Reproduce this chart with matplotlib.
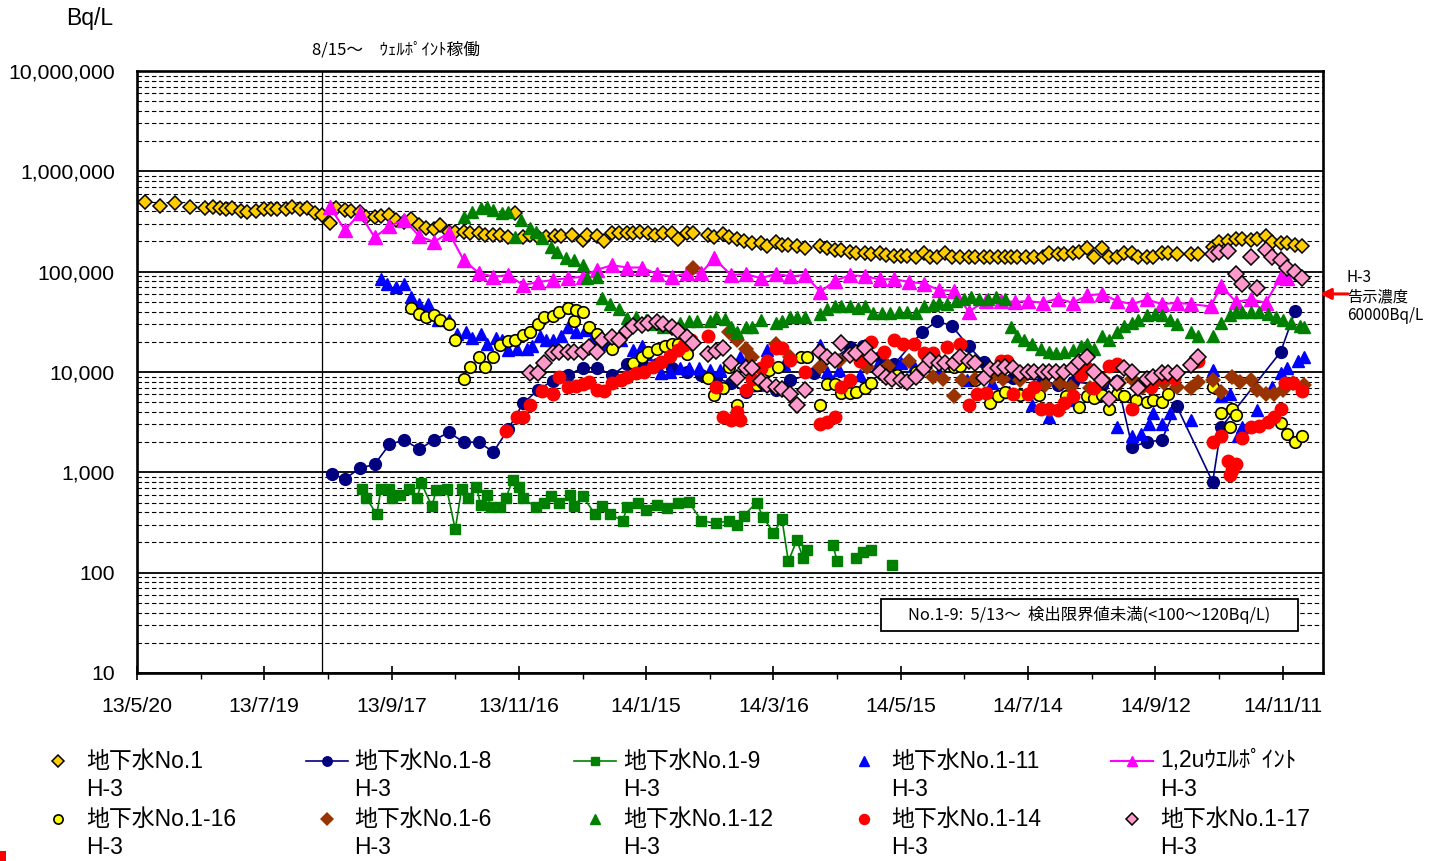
"""
Groundwater H-3 concentration (Bq/L, log scale), 2013/5 - 2014/11.
"""

import datetime as dt

import matplotlib
matplotlib.use("Agg")
import matplotlib.pyplot as plt
import matplotlib.dates as mdates
import numpy as np
from matplotlib.lines import Line2D
from matplotlib.patches import Rectangle
from matplotlib.ticker import FixedLocator, FuncFormatter, LogLocator, NullFormatter

plt.rcParams["font.family"] = ["Liberation Sans", "Noto Sans CJK JP", "DejaVu Sans"]
JP = ["Noto Sans CJK JP", "DejaVu Sans"]

# ---------------- data (date yy/m/d, H-3 in Bq/L) ----------------
no1_dates = """
13/5/24 13/5/31 13/6/7 13/6/14 13/6/21 13/6/25 13/6/28 13/7/1 13/7/4 13/7/8 13/7/11 13/7/15
13/7/19 13/7/22 13/7/25 13/7/29 13/8/1 13/8/5 13/8/8 13/8/12 13/8/15 13/8/19 13/8/22 13/8/26
13/8/29 13/9/2 13/9/5 13/9/9 13/9/12 13/9/16 13/9/19 13/9/23 13/9/26 13/9/30 13/10/3 13/10/7
13/10/10 13/10/14 13/10/17 13/10/21 13/10/24 13/10/28 13/10/31 13/11/4 13/11/7 13/11/11 13/11/14
13/11/18 13/11/21 13/11/25 13/11/29 13/12/3 13/12/6 13/12/11 13/12/16 13/12/18 13/12/23 13/12/26
13/12/30 14/1/2 14/1/6 14/1/9 14/1/12 14/1/16 14/1/19 14/1/23 14/1/27 14/1/30 14/2/3 14/2/6
14/2/13 14/2/16 14/2/20 14/2/23 14/2/27 14/3/2 14/3/6 14/3/10 14/3/13 14/3/17 14/3/20 14/3/23
14/3/27 14/3/31 14/4/7 14/4/10 14/4/14 14/4/17 14/4/21 14/4/24 14/4/28 14/5/1 14/5/5 14/5/8
14/5/12 14/5/15 14/5/18 14/5/22 14/5/26 14/5/29 14/6/1 14/6/5 14/6/8 14/6/12 14/6/16 14/6/19
14/6/23 14/6/26 14/6/30 14/7/3 14/7/6 14/7/9 14/7/13 14/7/17 14/7/21 14/7/24 14/7/28 14/7/31
14/8/4 14/8/7 14/8/11 14/8/14 14/8/18 14/8/21 14/8/25 14/8/28 14/9/1 14/9/4 14/9/8 14/9/11
14/9/15 14/9/18 14/9/22 14/9/29 14/10/2 14/10/9 14/10/12 14/10/16 14/10/20 14/10/23 14/10/27
14/10/30 14/11/3 14/11/6 14/11/10 14/11/13 14/11/17 14/11/20
""".split()
no1_vals = [
    500000, 450000, 480000, 440000, 430000, 440000, 430000, 420000, 430000, 400000, 390000, 400000,
    420000, 420000, 420000, 420000, 440000, 420000, 430000, 385000, 365000, 305000, 430000, 410000,
    400000, 390000, 350000, 350000, 355000, 365000, 325000, 310000, 335000, 290000, 270000, 265000,
    290000, 248000, 248000, 248000, 242000, 242000, 230000, 230000, 230000, 220000, 385000,
    220000, 230000, 220000, 220000, 225000, 225000, 230000, 206000, 230000, 226000, 202000,
    242000, 242000, 242000, 245000, 250000, 242000, 231000, 245000, 242000, 211000, 245000, 245000,
    231000, 221000, 237000, 221000, 211000, 202000, 193000, 193000, 180000, 197000, 184000, 184000,
    180000, 172000, 180000, 172000, 164000, 164000, 157000, 153000, 153000, 150000, 153000, 146000,
    143000, 143000, 143000, 140000, 153000, 140000, 140000, 153000, 140000, 140000, 140000, 140000,
    140000, 140000, 140000, 140000, 140000, 140000, 140000, 140000, 140000, 153000, 150000, 150000,
    153000, 157000, 172000, 140000, 172000, 140000, 140000, 153000, 153000, 140000, 140000, 140000,
    153000, 153000, 150000, 150000, 150000, 176000, 197000, 202000, 211000, 211000, 206000,
    211000, 226000, 197000, 193000, 193000, 184000, 180000,
]

no18_dates = """
13/8/20 13/8/26 13/9/2 13/9/9 13/9/16 13/9/23 13/9/30 13/10/7 13/10/14 13/10/21 13/10/28 13/11/4
13/11/11 13/11/18 13/11/25 13/12/2 13/12/9 13/12/16 13/12/23 13/12/30 14/1/6 14/1/13 14/1/20
14/1/27 14/2/3 14/2/10 14/2/17 14/2/24 14/3/3 14/3/17 14/3/24 14/4/4 14/4/21 14/4/27 14/5/5
14/5/12 14/5/25 14/6/1 14/6/8 14/6/16 14/6/23 14/6/30 14/7/7 14/7/21 14/7/28 14/8/4 14/8/18
14/8/25 14/9/1 14/9/8 14/9/15 14/9/22 14/10/9 14/10/13 14/11/10 14/11/17
""".split()
no18_vals = [
    960, 860, 1100, 1200, 1900, 2100, 1700, 2100, 2500, 2000, 2000, 1600,
    2700, 4900, 6600, 8200, 9300, 11000, 11000, 9300, 12000, 12000, 12000,
    11000, 10000, 9300, 8700, 7700, 6300, 6600, 8300, 9700, 17700, 18000, 14000,
    12000, 25000, 32000, 29000, 18000, 12600, 9800, 8700, 8300, 7400, 8000, 7400,
    8100, 1800, 2000, 2100, 4600, 800, 2800, 15800, 41000,
]

no19_dates = """
13/9/3 13/9/5 13/9/10 13/9/12 13/9/16 13/9/17 13/9/21 13/9/25 13/9/29 13/10/1 13/10/6 13/10/8
13/10/13 13/10/17 13/10/20 13/10/23 13/10/27 13/10/29 13/11/1 13/11/3 13/11/7 13/11/10 13/11/13
13/11/16 13/11/18 13/11/24 13/11/28 13/12/1 13/12/5 13/12/10 13/12/12 13/12/16 13/12/22 13/12/25
13/12/29 14/1/4 14/1/6 14/1/11 14/1/15 14/1/20 14/1/25 14/1/30 14/2/4 14/2/10 14/2/17 14/2/23
14/2/27 14/3/2 14/3/8 14/3/11 14/3/16 14/3/20 14/3/23 14/3/27 14/3/30 14/4/1 14/4/7 14/4/13
14/4/15 14/4/20 14/4/24 14/4/27 14/5/1 14/5/5 14/5/11
""".split()
no19_vals = [
    680, 560, 380, 680, 690, 560, 590, 680, 560, 780, 460, 660,
    680, 270, 680, 560, 720, 470, 590, 450, 450, 560, 840,
    720, 550, 450, 490, 580, 490, 590, 460, 580, 380, 460,
    380, 330, 450, 490, 420, 470, 440, 490, 510, 330, 310, 330,
    300, 370, 500, 360, 250, 340, 130, 210, 140, 170, None, 190,
    130, None, 140, 160, 170, None, 120,
]

no111_dates = """
13/9/12 13/9/15 13/9/19 13/9/23 13/9/26 13/9/30 13/10/4 13/10/9 13/10/14 13/10/18 13/10/22
13/10/25 13/10/29 13/11/1 13/11/5 13/11/8 13/11/11 13/11/15 13/11/20 13/11/22 13/11/26 13/11/29
13/12/2 13/12/6 13/12/9 13/12/13 13/12/17 13/12/21 13/12/27 14/1/3 14/1/9 14/1/13 14/1/15
14/1/22 14/1/26 14/1/31 14/2/4 14/2/9 14/2/14 14/2/19 14/2/28 14/3/5 14/3/13 14/3/21 14/4/7
14/4/10 14/4/16 14/4/26 14/5/4 14/5/15 14/5/21 14/6/2 14/6/15 14/6/27 14/7/5 14/7/16 14/7/24
14/8/3 14/8/11 14/8/17 14/8/25 14/9/1 14/9/5 14/9/9 14/9/11 14/9/15 14/9/19 14/9/29 14/10/9
14/10/13 14/10/17 14/10/21 14/10/23 14/10/30 14/11/6 14/11/10 14/11/13 14/11/18 14/11/21
""".split()
no111_vals = [
    84000, 76000, 70000, 76000, 56000, 48000, 48000, 33000, 33000, 24000, 25000,
    22000, 24000, 19000, 22000, 21000, 16500, 17000, 17000, 18000, 23000, 21000,
    21000, 23000, 28000, 25000, 26000, 22000, 19000, 21000, 16500, 18000, 15000,
    9700, 10000, 11000, 11000, 11000, 10500, 10500, 14000, 15000, 16500, 12000, 18500,
    10000, 10500, 9300, 11500, 12300, 11500, 10000, 8300, 7700, 6300, 4700, 3600,
    5300, 11000, 5900, 2800, 2300, 2400, 3000, 3900, 3000, 3900, 3300, 10400,
    5700, 6100, 2300, 2800, 4200, 7100, 9700, 11000, 13000, 14000,
]

well_dates = """
13/8/19 13/8/26 13/9/2 13/9/9 13/9/16 13/9/23 13/9/30 13/10/7 13/10/14 13/10/21 13/10/28 13/11/4
13/11/11 13/11/18 13/11/25 13/12/2 13/12/9 13/12/16 13/12/23 13/12/30 14/1/6 14/1/13 14/1/20
14/1/27 14/2/3 14/2/10 14/2/16 14/2/24 14/3/3 14/3/10 14/3/17 14/3/24 14/3/31 14/4/7 14/4/14
14/4/21 14/4/28 14/5/5 14/5/12 14/5/19 14/5/26 14/6/2 14/6/9 14/6/16 14/6/24 14/7/1 14/7/8
14/7/14 14/7/21 14/7/28 14/8/4 14/8/11 14/8/18 14/8/25 14/9/1 14/9/8 14/9/15 14/9/22 14/9/29
14/10/8 14/10/13 14/10/20 14/10/27 14/11/3 14/11/10 14/11/13
""".split()
well_vals = [
    440000, 260000, 380000, 220000, 285000, 330000, 226000, 198000, 244000, 130000, 97500, 89000,
    92500, 73500, 79000, 82500, 86000, 89000, 105000, 116000, 110000, 110000, 95000,
    89000, 96000, 97500, 136000, 92500, 95000, 86000, 95000, 90000, 92500, 63000, 81000,
    92500, 90000, 84000, 84000, 79000, 76000, 65500, 64500, 40000, 51000, 51000, 50000,
    51000, 49000, 54000, 49000, 58000, 60000, 51000, 47500, 53000, 47500, 49000, 47500,
    45000, 72000, 50000, 53000, 49000, 89000, 86000,
]

no116_dates = """
13/9/26 13/9/30 13/10/3 13/10/7 13/10/10 13/10/14 13/10/17 13/10/21 13/10/24 13/10/28 13/10/31
13/11/4 13/11/7 13/11/11 13/11/14 13/11/18 13/11/21 13/11/25 13/11/28 13/12/2 13/12/5 13/12/9
13/12/12 13/12/13 13/12/16 13/12/19 13/12/23 13/12/30 14/1/9 14/1/13 14/1/16 14/1/20 14/1/24
14/1/27 14/1/30 14/2/3 14/2/13 14/2/16 14/2/20 14/2/23 14/2/27 14/3/8 14/3/14 14/3/18 14/3/29
14/4/1 14/4/7 14/4/10 14/4/14 14/4/17 14/4/21 14/4/24 14/4/28 14/5/1 14/5/13 14/5/22 14/6/9
14/6/12 14/6/19 14/6/26 14/6/30 14/7/3 14/7/10 14/7/19 14/8/1 14/8/7 14/8/11 14/8/14 14/8/18
14/8/21 14/8/25 14/8/28 14/9/3 14/9/8 14/9/11 14/9/15 14/9/18 14/10/9 14/10/13 14/10/17
14/10/18 14/10/20 14/11/10 14/11/13 14/11/17 14/11/20
""".split()
no116_vals = [
    43000, 38000, 35500, 37000, 33000, 30000, 21000, 8600, 11100, 14200, 11100,
    14200, 18500, 20400, 21000, 23300, 25200, 30000, 35000, 36000, 40000, 43000,
    32000, 41500, 40000, 28000, 24000, 17000, 12200, 14200, 16000, 17000, 18000,
    19000, 19000, 15000, 8800, 5900, 6900, 11200, 4700, 7400, 10400, 11200, 14200,
    14200, 4700, 7600, 7600, 6200, 6200, 6300, 6900, 7800, 9300, 10000, 11200,
    11500, 8300, 4900, 5700, 6300, 5900, 5900, 5700, 4500, 5700, 5500, 5900,
    4300, 6100, 5700, 5200, 5000, 5200, 5000, 6100, 7100, 3900, 2800,
    4300, 3700, 3100, 2400, 2000, 2300,
]

no16_dates = """
14/2/6 14/2/23 14/2/27 14/3/3 14/3/6 14/3/17 14/3/24 14/4/7 14/4/16 14/4/29 14/5/9 14/5/19
14/5/30 14/6/4 14/6/9 14/6/13 14/6/19 14/6/27 14/7/2 14/7/10 14/7/22 14/7/29 14/8/3 14/8/12
14/8/19 14/8/26 14/9/1 14/9/6 14/9/11 14/9/16 14/9/22 14/9/29 14/10/2 14/10/9 14/10/13
14/10/18 14/10/22 14/10/27 14/10/30 14/11/3 14/11/7 14/11/11 14/11/16 14/11/21
""".split()
no16_vals = [
    110000, 25000, 21000, 17000, 14000, 19000, 14000, 11200, 13000, 11200, 11500, 13000,
    9000, 8600, 5700, 8300, 8600, 9000, 8600, 8300, 7400, 7700, 7100, 6900,
    8300, 7700, 8600, 7100, 7400, 7700, 7100, 6900, 8000, 8300, 6300,
    9000, 8000, 8300, 6600, 6100, 6100, 6600, 7700, 7400,
]

no112_dates = """
13/10/21 13/10/25 13/10/29 13/11/1 13/11/4 13/11/8 13/11/11 13/11/14 13/11/17 13/11/21 13/11/24
13/11/27 13/12/1 13/12/4 13/12/8 13/12/12 13/12/16 13/12/18 13/12/23 13/12/25 13/12/29 14/1/2
14/1/6 14/1/10 14/1/15 14/1/19 14/1/23 14/1/27 14/1/31 14/2/4 14/2/8 14/2/14 14/2/17 14/2/21
14/2/24 14/2/27 14/3/3 14/3/6 14/3/10 14/3/17 14/3/20 14/3/24 14/3/27 14/3/31 14/4/7 14/4/10
14/4/14 14/4/17 14/4/21 14/4/25 14/4/28 14/5/2 14/5/6 14/5/10 14/5/14 14/5/18 14/5/22 14/5/26
14/5/30 14/6/2 14/6/6 14/6/10 14/6/14 14/6/17 14/6/21 14/6/25 14/6/29 14/7/3 14/7/6 14/7/9
14/7/12 14/7/16 14/7/20 14/7/24 14/7/27 14/7/31 14/8/4 14/8/8 14/8/11 14/8/14 14/8/18 14/8/21
14/8/25 14/8/28 14/9/1 14/9/4 14/9/8 14/9/12 14/9/15 14/9/19 14/9/22 14/9/29 14/10/2 14/10/9
14/10/13 14/10/17 14/10/20 14/10/23 14/10/27 14/10/31 14/11/4 14/11/8 14/11/11 14/11/15
14/11/19 14/11/21
""".split()
no112_vals = [
    350000, 395000, 430000, 440000, 410000, 380000, 395000, 220000, 327000, 270000, 250000,
    215000, 177000, 158000, 136000, 130000, 116000, 86000, 89000, 55000, 47500, 42000,
    34500, 35500, 33000, 30000, 28000, 29000, 30500, 32000, 32000, 32000, 35000, 34000,
    28000, 25000, 28000, 28000, 33000, 30500, 32000, 35500, 35500, 35500, 38000, 42000,
    45000, 45000, 45000, 43000, 45000, 39000, 39000, 39000, 40000, 40000, 39000, 45000,
    46500, 49000, 48000, 51000, 54000, 56000, 54000, 54000, 56000, 54000, 28000, 23000,
    21000, 19000, 17000, 16000, 15500, 16000, 16500, 18000, 19000, 17000, 23000, 21000,
    25000, 29000, 31000, 33000, 37000, 38000, 37000, 33000, 30000, 25000, 23000, 23000,
    30500, 37000, 40000, 40000, 40000, 40000, 38000, 35500, 33000, 30500,
    29000, 28000,
]

no114_dates = """
13/11/10 13/11/15 13/11/18 13/11/21 13/11/27 13/12/2 13/12/5 13/12/9 13/12/13 13/12/16 13/12/19
13/12/23 13/12/26 13/12/30 14/1/3 14/1/6 14/1/10 14/1/14 14/1/18 14/1/22 14/1/26 14/1/30 14/2/2
14/2/5 14/2/13 14/2/17 14/2/20 14/2/24 14/2/27 14/2/28 14/3/3 14/3/6 14/3/10 14/3/13 14/3/17
14/3/20 14/3/24 14/3/31 14/4/7 14/4/10 14/4/14 14/4/17 14/4/21 14/4/26 14/5/1 14/5/7 14/5/12
14/5/16 14/5/21 14/5/26 14/5/30 14/6/6 14/6/12 14/6/16 14/6/20 14/6/24 14/7/1 14/7/4 14/7/7
14/7/14 14/7/17 14/7/20 14/7/24 14/7/28 14/7/31 14/8/4 14/8/8 14/8/11 14/8/14 14/8/21 14/8/25
14/9/1 14/9/10 14/9/15 14/9/21 14/9/30 14/10/2 14/10/9 14/10/13 14/10/16 14/10/17 14/10/18
14/10/20 14/10/23 14/10/27 14/10/31 14/11/4 14/11/7 14/11/10 14/11/12 14/11/16 14/11/20
""".split()
no114_vals = [
    2600, 3600, 3600, 4700, 6400, 6100, 9000, 7100, 7200, 7600, 8000,
    6600, 6400, 7700, 8300, 9000, 9700, 10000, 11200, 12600, 14400, 16500, 18500,
    21000, 23000, 7100, 3600, 3300, 4000, 3300, 6600, 8600, 10900, 12800, 17200,
    17200, 13100, 10000, 3000, 3200, 3600, 7100, 8300, 13000, 20000, 15900, 21000,
    19000, 19000, 15600, 15600, 17800, 19000, 4700, 6100, 6200, 12800, 13000, 6100,
    6100, 7100, 4300, 4300, 4200, 4900, 5700, 9300, 10900, 7000, 11500, 12000,
    4300, 7100, 9000, 8700, 12600, 13000, 2000, 2300, 1300, 940, 1050,
    1200, 2200, 2800, 2900, 3200, 3600, 4300, 7800, 7700, 6400,
]

no117_dates = """
13/11/21 13/11/25 13/11/28 13/12/2 13/12/5 13/12/9 13/12/12 13/12/16 13/12/19 13/12/23 13/12/25
13/12/30 14/1/2 14/1/6 14/1/9 14/1/13 14/1/16 14/1/20 14/1/23 14/1/27 14/1/30 14/2/3 14/2/6
14/2/13 14/2/17 14/2/20 14/2/24 14/2/27 14/3/3 14/3/6 14/3/10 14/3/13 14/3/17 14/3/20 14/3/24
14/3/27 14/3/31 14/4/7 14/4/10 14/4/14 14/4/17 14/4/21 14/4/24 14/4/28 14/5/1 14/5/5 14/5/8
14/5/11 14/5/15 14/5/18 14/5/22 14/5/26 14/5/29 14/6/2 14/6/5 14/6/9 14/6/12 14/6/16 14/6/19
14/6/23 14/6/26 14/6/30 14/7/3 14/7/7 14/7/10 14/7/14 14/7/17 14/7/21 14/7/24 14/7/27 14/7/31
14/8/4 14/8/7 14/8/11 14/8/14 14/8/18 14/8/21 14/8/25 14/8/28 14/9/1 14/9/4 14/9/8 14/9/11
14/9/15 14/9/18 14/9/22 14/9/29 14/10/2 14/10/9 14/10/12 14/10/16 14/10/20 14/10/23 14/10/27
14/10/30 14/11/3 14/11/6 14/11/10 14/11/13 14/11/17 14/11/20
""".split()
no117_vals = [
    9800, 9800, 12200, 15300, 15900, 15900, 15900, 15900, 17900, 15900, 20800,
    22400, 20800, 25900, 29000, 29300, 31000, 31600, 30000, 28200, 25500, 22300, 19300,
    15100, 16100, 17200, 12200, 8700, 11000, 10900, 8100, 7400, 7100, 6800, 6100,
    4700, 6600, 15900, 14200, 13100, 19300, 14700, 15300, 17200, 14200, 10000, 9000,
    8600, 8300, 8000, 9000, 10900, 13100, 12200, 12200, 12200, 14200, 12800, 12200,
    8800, 10700, 10900, 11300, 10900, 9700, 10000, 10000, 10000, 10000, 10000, 10000,
    10900, 12600, 14200, 10000, 8300, 5400, 7700, 10900, 10000, 6900, 8600, 9000,
    9700, 9700, 9700, 11700, 14200, 150000, 158000, 160000, 95000, 75000, 139000,
    68000, 164000, 139000, 130000, 110000, 100000, 86000,
]

x_tick_labels = ["13/5/20", "13/7/19", "13/9/17", "13/11/16", "14/1/15",
                 "14/3/16", "14/5/15", "14/7/14", "14/9/12", "14/11/11"]
y_ticks = [10, 100, 1000, 10000, 100000, 1000000, 10000000]
x_start, x_end = "13/5/20", "14/11/30"
well_start = "13/8/15"
limit_value = 60000  # notification limit for H-3


def to_dates(strs):
    return [dt.datetime.strptime(s, "%y/%m/%d") for s in strs]


series = [
    ("地下水No.1", no1_dates, no1_vals,
     dict(marker="D", ms=7.6, mfc="#FFCC00", mec="black", mew=1.1, ls="none")),
    ("地下水No.1-8", no18_dates, no18_vals,
     dict(marker="o", ms=8.5, mfc="#000080", mec="#000080", color="#000080", lw=1.2)),
    ("地下水No.1-9", no19_dates, no19_vals,
     dict(marker="s", ms=7.8, mfc="#008000", mec="#008000", color="#008000", lw=1.2)),
    ("地下水No.1-11", no111_dates, no111_vals,
     dict(marker="^", ms=9.0, mfc="#0000FF", mec="#0000FF", ls="none")),
    ("1,2uｳｴﾙﾎﾟｲﾝﾄ", well_dates, well_vals,
     dict(marker="^", ms=9.5, mfc="#FF00FF", mec="#FF00FF", color="#FF00FF", lw=1.5)),
    ("地下水No.1-16", no116_dates, no116_vals,
     dict(marker="o", ms=8.3, mfc="#FFFF00", mec="black", mew=1.2, ls="none")),
    ("地下水No.1-6", no16_dates, no16_vals,
     dict(marker="D", ms=8.6, mfc="#993300", mec="#993300", mew=0.0, ls="none")),
    ("地下水No.1-12", no112_dates, no112_vals,
     dict(marker="^", ms=9.0, mfc="#008000", mec="#008000", ls="none")),
    ("地下水No.1-14", no114_dates, no114_vals,
     dict(marker="o", ms=9.0, mfc="#FF0000", mec="#FF0000", ls="none")),
    ("地下水No.1-17", no117_dates, no117_vals,
     dict(marker="D", ms=7.8, mfc="#FF99CC", mec="black", mew=1.1, ls="none")),
]

W, H = 1437, 861
fig = plt.figure(figsize=(W / 100, H / 100), dpi=100)


def fx(px):
    return px / W


def fy(py):
    return 1 - py / H


ax = fig.add_axes([fx(137), fy(673), 1186 / W, 602 / H])

for i, (label, dates, vals, style) in enumerate(series):
    ax.plot(to_dates(dates), np.array(vals, dtype=float), zorder=3 + i, **style)

# axes
ax.set_yscale("log")
ax.set_ylim(10, 1e7)
ax.set_yticks(y_ticks)
ax.yaxis.set_major_formatter(FuncFormatter(lambda v, p: f"{v:,.0f}"))
ax.yaxis.set_minor_locator(LogLocator(base=10, subs=np.arange(2, 10)))
ax.yaxis.set_minor_formatter(NullFormatter())

start, end = to_dates([x_start, x_end])
ax.set_xlim(start, end)
tick_nums = mdates.date2num(to_dates(x_tick_labels))
ax.xaxis.set_major_locator(FixedLocator(tick_nums))
ax.set_xticklabels(x_tick_labels)
ax.xaxis.set_minor_locator(FixedLocator((tick_nums[:-1] + tick_nums[1:]) / 2))

ax.tick_params(axis="y", which="both", length=0, pad=16, labelsize=15.3)
ax.tick_params(axis="x", which="major", direction="inout", length=10, width=1.2,
               pad=12, labelsize=15.3)
ax.tick_params(axis="x", which="minor", direction="out", length=4, width=1.0)

ax.set_axisbelow(True)
ax.grid(which="major", axis="y", color="black", lw=1.3)
ax.grid(which="minor", axis="y", color="black", lw=0.8, ls=(0, (4, 2.5)))
for sp in ax.spines.values():
    sp.set_linewidth(1.9)
    sp.set_zorder(30)

ax.axvline(to_dates([well_start])[0], color="black", lw=0.9, zorder=2)

# notes
fig.text(fx(113), fy(18), "Bq/L", ha="right", va="center", fontsize=16.5)
fig.text(fx(312), fy(50), "8/15～　ｳｪﾙﾎﾟｲﾝﾄ稼働", ha="left", va="center",
         fontsize=12, family=JP)

ax.add_patch(Rectangle((0.6273, 0.0698), 0.3516, 0.0532, transform=ax.transAxes,
                       facecolor="white", edgecolor="black", lw=1.3, zorder=20))
ax.text(0.8031, 0.0963, "No.1-9:  5/13～  検出限界値未満(<100～120Bq/L)",
        transform=ax.transAxes, ha="center", va="center", fontsize=11.8,
        family=JP, zorder=21)

ax.annotate("", xy=(0.9975, limit_value), xycoords=("axes fraction", "data"),
            xytext=(1.0211, limit_value), textcoords=("axes fraction", "data"),
            arrowprops=dict(arrowstyle="-|>", color="red", lw=2.2, mutation_scale=16,
                            shrinkA=0, shrinkB=0),
            annotation_clip=False, zorder=40)
for txt, py in [("H-3", 278), ("告示濃度", 297), (f"{limit_value}Bq/L", 316)]:
    fig.text(fx(1347), fy(py), txt, ha="left", va="center", fontsize=11, family=JP)

# legend, five columns of two entries
for i, (label, _, _, style) in enumerate(series):
    col, row = i % 5, i // 5
    xc = 58 + 268.5 * col
    yname = 761 + 58 * row
    if style.get("ls") != "none":
        fig.add_artist(Line2D([fx(xc - 21), fx(xc + 21)], [fy(yname)] * 2,
                              transform=fig.transFigure, color=style["color"], lw=style["lw"]))
    mk = {k: style[k] for k in ("marker", "mfc", "mec") if k in style}
    mk["ms"] = style["ms"] * 0.8
    mk["mew"] = style.get("mew", 1.0)
    fig.add_artist(Line2D([fx(xc)], [fy(yname)], transform=fig.transFigure, ls="none", **mk))
    fig.text(fx(xc + 28), fy(yname), label, ha="left", va="center", fontsize=16.5)
    fig.text(fx(xc + 28), fy(yname + 28.5), "H-3", ha="left", va="center", fontsize=16.5)

fig.add_artist(Rectangle((0, 0), 6 / W, 10 / H, transform=fig.transFigure,
                         facecolor="red", edgecolor="none"))

fig.savefig("out.png", dpi=100)
